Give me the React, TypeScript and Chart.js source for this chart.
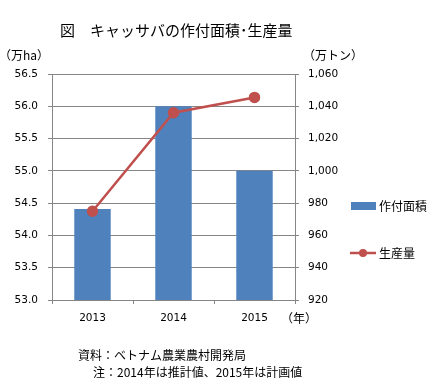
import React, { useEffect, useRef } from "react";
import { Chart, registerables } from "chart.js";

Chart.register(...registerables);

const years = ["2013", "2014", "2015"];
const areaValues = [54.41, 56.0, 55.0];
const productionValues = [975, 1036, 1045.5];
const titleText = "図　キャッサバの作付面積･生産量";
const leftUnit = "（万ha）";
const rightUnit = "（万トン）";
const xUnit = "（年）";
const sourceLines = ["資料：ベトナム農業農村開発局", "注：2014年は推計値、2015年は計画値"];
const legendLabels = ["作付面積", "生産量"];

const BLUE = "#4F81BD";
const RED = "#C0504D";
const GRAY = "#868686";
const JP = "'Noto Sans CJK JP', 'Noto Sans', sans-serif";
const NUM = "'DejaVu Sans', sans-serif";

const textPlugin = {
  id: "texts",
  afterDraw(chart: any) {
    const ctx = chart.ctx;
    ctx.save();
    ctx.fillStyle = "#000";
    ctx.textBaseline = "middle";
    ctx.textAlign = "left";
    ctx.font = `15px ${JP}`;
    ctx.fillText(titleText, 60, 30);
    ctx.font = `12px ${JP}`;
    ctx.fillText(leftUnit, -1, 55);
    ctx.fillText(rightUnit, 303, 55);
    ctx.fillText(xUnit, 281, 318);
    ctx.fillText(sourceLines[0], 78, 355);
    ctx.fillText(sourceLines[1], 93, 372);
    // legend
    ctx.fillStyle = BLUE;
    ctx.fillRect(351, 202, 25, 8);
    ctx.fillStyle = "#000";
    ctx.fillText(legendLabels[0], 379, 206);
    ctx.strokeStyle = RED;
    ctx.lineWidth = 2.5;
    ctx.beginPath();
    ctx.moveTo(350, 253);
    ctx.lineTo(376, 253);
    ctx.stroke();
    ctx.fillStyle = RED;
    ctx.beginPath();
    ctx.arc(363, 253, 4, 0, Math.PI * 2);
    ctx.fill();
    ctx.fillStyle = "#000";
    ctx.fillText(legendLabels[1], 379, 253);
    ctx.restore();
  },
};

export default function App() {
  const ref = useRef<HTMLCanvasElement>(null);
  useEffect(() => {
    if (!ref.current) return;
    const tickFont = { family: NUM, size: 10.5 };
    const chart = new Chart(ref.current, {
      type: "bar",
      data: {
        labels: years,
        datasets: [
          {
            type: "bar",
            label: legendLabels[0],
            data: areaValues,
            backgroundColor: BLUE,
            yAxisID: "y",
            categoryPercentage: 1,
            barPercentage: 0.45,
            order: 1,
          },
          {
            type: "line",
            label: legendLabels[1],
            data: productionValues,
            borderColor: RED,
            backgroundColor: RED,
            borderWidth: 2.5,
            pointRadius: 4.5,
            pointBackgroundColor: RED,
            pointBorderColor: RED,
            yAxisID: "y1",
            order: 0,
          } as any,
        ],
      },
      options: {
        responsive: false,
        animation: false,
        layout: { padding: { top: 74, left: 0, right: 0, bottom: 0 } },
        plugins: { legend: { display: false }, title: { display: false }, tooltip: { enabled: false } },
        scales: {
          x: {
            offset: true,
            grid: { display: true, drawOnChartArea: false, drawTicks: true, tickLength: 4, color: GRAY, offset: true },
            border: { color: GRAY },
            ticks: { font: tickFont, color: "#000", padding: 8 },
            afterFit: (s: any) => { s.height = 89; },
          },
          y: {
            position: "left",
            min: 53,
            max: 56.5,
            grid: { color: GRAY, tickLength: 4 },
            border: { color: GRAY },
            ticks: { stepSize: 0.5, font: tickFont, color: "#000", padding: 10, callback: (v: any) => Number(v).toFixed(1) },
            afterFit: (s: any) => { s.width = 52; },
          },
          y1: {
            position: "right",
            min: 920,
            max: 1060,
            grid: { drawOnChartArea: false, color: GRAY, tickLength: 4 },
            border: { color: GRAY },
            ticks: { stepSize: 20, font: tickFont, color: "#000", padding: 9, callback: (v: any) => Number(v).toLocaleString("en-US") },
            afterFit: (s: any) => { s.width = 144; },
          },
        },
      },
      plugins: [textPlugin],
    });
    return () => chart.destroy();
  }, []);
  return (
    <div style={{ position: "absolute", left: 0, top: 0, width: 439, height: 389, background: "#fff" }}>
      <canvas ref={ref} width={439} height={389} style={{ width: 439, height: 389 }} />
    </div>
  );
}
